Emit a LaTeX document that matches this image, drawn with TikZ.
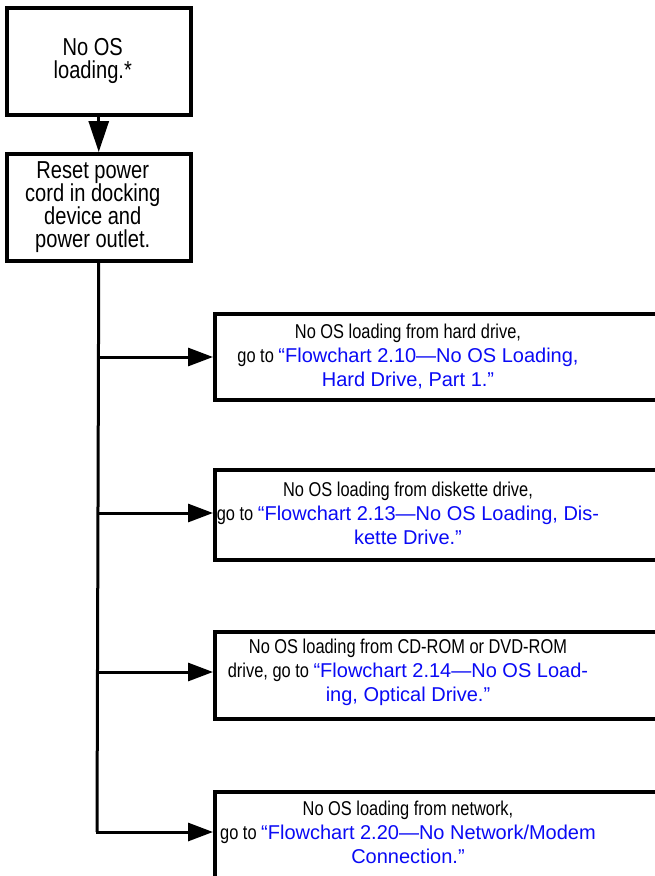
\documentclass[tikz,border=0pt]{standalone}
\usepackage{fontspec}
\setmainfont{Liberation Sans}
\newfontfamily\narrowf{Liberation Sans}[FakeStretch=0.82]
\usetikzlibrary{arrows.meta}
\definecolor{linkblue}{RGB}{10,10,245}
\newcommand{\lnk}[1]{{\color{linkblue}\normalfont #1}}
\tikzset{
  box/.style={draw, line width=3.5pt, rectangle, inner sep=0pt},
  txt/.style={align=center, inner sep=0pt, font=\narrowf\fontsize{20}{24}\selectfont},
  ttxt/.style={align=center, inner sep=0pt, font=\narrowf\fontsize{24.5}{23}\selectfont},
  conn/.style={line width=3pt},
  arr/.style={line width=3pt, -{Triangle[length=25pt,width=18pt]}},
  toparr/.style={line width=3pt, -{Triangle[length=31pt,width=20pt]}},
}
\begin{document}
\begin{tikzpicture}[x=1pt,y=-1pt]
\clip (0,0) rectangle (655,876);
\fill[white] (0,0) rectangle (655,876);
% top boxes
\node[box, minimum width=184pt, minimum height=107pt, anchor=north west] (s1) at (5,6) {};
\node[ttxt] (s1t) at ([xshift=-6pt]s1.center) {No OS\\loading.*};
\node[box, minimum width=184pt, minimum height=107pt, anchor=north west] (s2) at (5,152) {};
\node[ttxt] (s2t) at ([xshift=-6pt]s2.center) {Reset power\\cord in docking\\device and\\power outlet.};
\draw[toparr] (s1.south) -- (s2.north);
% right boxes
\node[box, minimum width=460pt, minimum height=86pt, anchor=north west] (b1) at (213,312) {};
\node[txt] (t1) at (408,357) {No OS loading from hard drive,\\go to \lnk{“Flowchart 2.10—No OS Loading,}\\\lnk{Hard Drive, Part 1.”}};
\node[box, minimum width=460pt, minimum height=90pt, anchor=north west] (b2) at (213,468) {};
\node[txt] (t2) at (408,513) {No OS loading from diskette drive,\\go to \lnk{“Flowchart 2.13—No OS Loading, Dis-}\\\lnk{kette Drive.”}};
\node[box, minimum width=460pt, minimum height=87pt, anchor=north west] (b3) at (213,630) {};
\node[txt] (t3) at (408,672) {No OS loading from CD-ROM or DVD-ROM\\drive, go to \lnk{“Flowchart 2.14—No OS Load-}\\\lnk{ing, Optical Drive.”}};
\node[box, minimum width=460pt, minimum height=100pt, anchor=north west] (b4) at (213,790) {};
\node[txt] (t4) at (408,832) {No OS loading from network,\\go to \lnk{“Flowchart 2.20—No Network/Modem}\\\lnk{Connection.”}};
% junctions on trunk
\coordinate (j1) at (97,357);
\coordinate (j2) at (97,513);
\coordinate (j3) at (97,672);
\coordinate (j4) at (97,832);
\draw[conn] (s2.south) -- (j4);
\draw[arr] (j1) -- (j1 -| b1.west);
\draw[arr] (j2) -- (j2 -| b2.west);
\draw[arr] (j3) -- (j3 -| b3.west);
\draw[arr] ([xshift=-1.5pt]j4) -- (j4 -| b4.west);
\end{tikzpicture}
\end{document}
